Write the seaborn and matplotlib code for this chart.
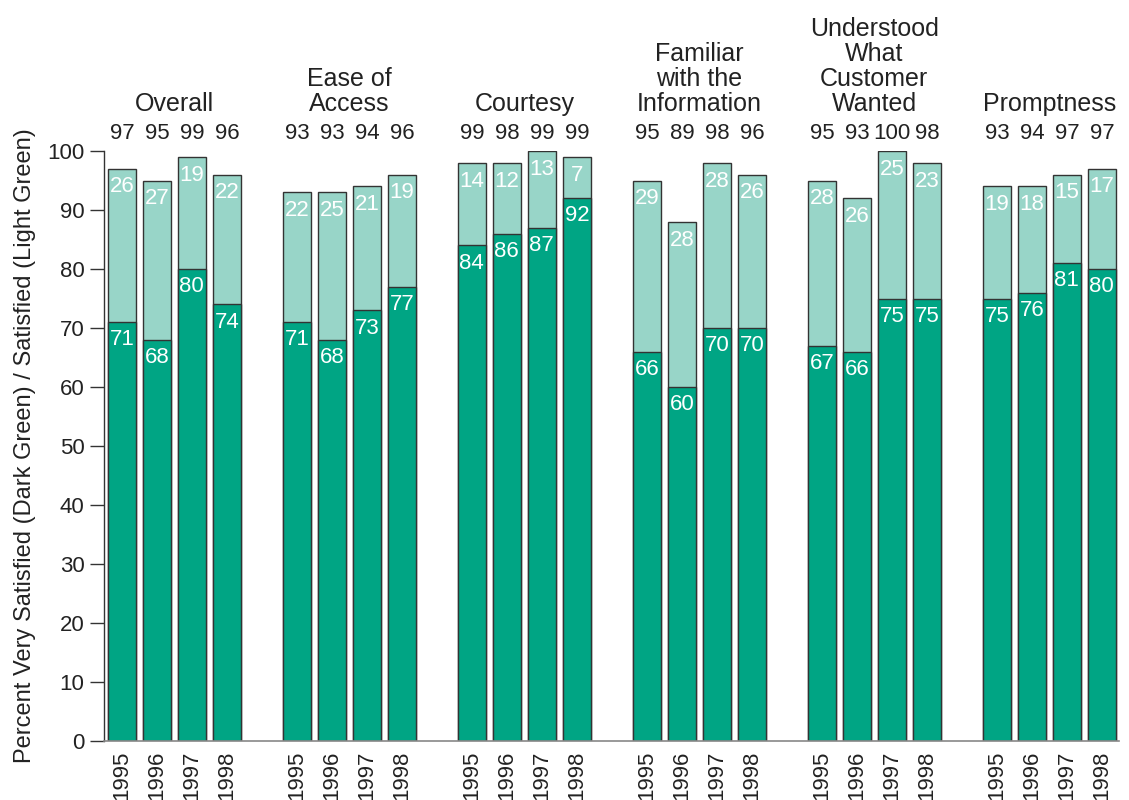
import numpy as np
import pandas as pd
import matplotlib
matplotlib.use("Agg")
import matplotlib.pyplot as plt
import seaborn as sns

categories = ["Overall", "Ease of\nAccess", "Courtesy", "Familiar\nwith the\nInformation",
              "Understood\nWhat\nCustomer\nWanted", "Promptness"]
years = ["1995", "1996", "1997", "1998"]
very_satisfied = [
    [71, 68, 80, 74],
    [71, 68, 73, 77],
    [84, 86, 87, 92],
    [66, 60, 70, 70],
    [67, 66, 75, 75],
    [75, 76, 81, 80],
]
satisfied = [
    [26, 27, 19, 22],
    [22, 25, 21, 19],
    [14, 12, 13, 7],
    [29, 28, 28, 26],
    [28, 26, 25, 23],
    [19, 18, 15, 17],
]
total_labels = [
    [97, 95, 99, 96],
    [93, 93, 94, 96],
    [99, 98, 99, 99],
    [95, 89, 98, 96],
    [95, 93, 100, 98],
    [93, 94, 97, 97],
]

DARK = "#00A584"
LIGHT = "#98D5C8"
TXT = "#222222"

rows = []
for g, cat in enumerate(categories):
    for i, yr in enumerate(years):
        vs = very_satisfied[g][i]
        s = satisfied[g][i]
        rows.append(dict(pos=g * 5 + i, group=cat, year=yr, vs=vs, s=s,
                         top=vs + s, total=total_labels[g][i]))
df = pd.DataFrame(rows)

sns.set_style("white")
plt.rcParams["font.family"] = ["Liberation Sans", "DejaVu Sans"]

fig = plt.figure(figsize=(11.29, 8), dpi=100)
ax = fig.add_axes([104 / 1129, 59 / 800, 1015 / 1129, 590 / 800])

sns.barplot(data=df, x="pos", y="top", native_scale=True, width=0.8, color=LIGHT,
            edgecolor="#333333", linewidth=1, saturation=1, errorbar=None, ax=ax)
sns.barplot(data=df, x="pos", y="vs", native_scale=True, width=0.8, color=DARK,
            edgecolor="#333333", linewidth=1, saturation=1, errorbar=None, ax=ax)

ax.set_xlim(-0.51, 28.49)
ax.set_ylim(0, 100)
ax.set_yticks(np.arange(0, 101, 10))
ax.set_xticks(df["pos"])
ax.set_xticklabels(df["year"])
ax.set_xlabel("")
ax.set_ylabel("Percent Very Satisfied (Dark Green) / Satisfied (Light Green)",
              fontsize=17, color=TXT, labelpad=8)

for sp in ["top", "right"]:
    ax.spines[sp].set_visible(False)
ax.spines["left"].set_color("#333333")
ax.spines["left"].set_linewidth(1)
ax.spines["bottom"].set_color("#888888")
ax.spines["bottom"].set_linewidth(1.2)

ax.tick_params(axis="x", length=0, pad=7, labelsize=16, labelrotation=90, labelcolor=TXT)
ax.tick_params(axis="y", length=10, width=1, color="#333333", pad=4, labelsize=16,
               labelcolor=TXT, left=True)

for _, r in df.iterrows():
    ax.text(r.pos, 103.0, str(r.total), ha="center", va="center", fontsize=16,
            color=TXT, clip_on=False)
    ax.text(r.pos, r.vs - 3.0, str(r.vs), ha="center", va="center", fontsize=16,
            color="white")
    ax.text(r.pos, r.top - 3.1, str(r.s), ha="center", va="center", fontsize=16,
            color="white")

for g, cat in enumerate(categories):
    ax.text(g * 5 + 1.5, 106.0, cat, ha="center", va="bottom", fontsize=18,
            color=TXT, linespacing=1.05, clip_on=False)

fig.savefig("out.png", dpi=100)
